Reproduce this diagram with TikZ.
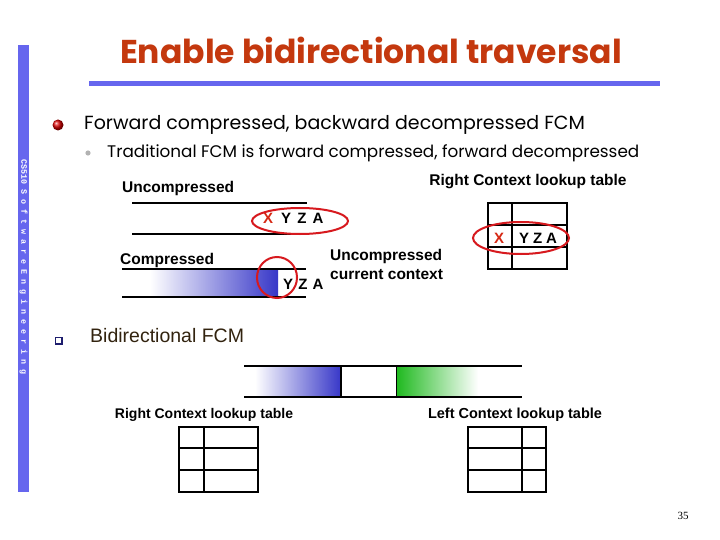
\documentclass[tikz,border=0pt]{standalone}
\usepackage{fontspec}
\setmainfont{Liberation Sans}
\newfontfamily\comic{Poppins}
\newfontfamily\monofont{Liberation Mono}
\newfontfamily\seriffont{Liberation Serif}
\definecolor{barblue}{RGB}{102,102,238}
\definecolor{titlecol}{RGB}{196,56,14}
\definecolor{xred}{RGB}{214,40,20}
\definecolor{ringred}{RGB}{215,25,30}
\definecolor{gblue}{RGB}{55,55,200}
\definecolor{ggreen}{RGB}{30,185,30}
\definecolor{navy}{RGB}{30,30,110}
\definecolor{bidir}{RGB}{50,35,15}
\tikzset{
  rail/.style={line width=2.6pt},
  ring/.style={draw=ringred, line width=2pt},
  grid/.style={line width=2pt},
  lab/.style={font=\bfseries\fontsize{15.5}{18}\selectfont, inner sep=0pt},
  tlab/.style={font=\bfseries\fontsize{14}{16}\selectfont, inner sep=0pt},
  letters/.style={font=\bfseries\fontsize{15}{15}\selectfont, inner sep=0pt}
}
\begin{document}
\begin{tikzpicture}[x=1pt,y=-1pt]
\useasboundingbox (0,0) rectangle (720,540);
\fill[white] (0,0) rectangle (720,540);
% side bar
\fill[barblue] (18,45) rectangle (29,492);
\node[rotate=-90, text=white, inner sep=0pt, font=\monofont\bfseries\fontsize{8.3}{8.3}\selectfont] (side) at (23.5,267) {CS510 S o f t w a r e E n g i n e e r i n g};
% title
\node[font=\comic\bfseries\fontsize{33}{33}\selectfont, text=titlecol, inner sep=0pt] (title) at (371,50) {Enable bidirectional traversal};
\fill[barblue] (89,81) rectangle (660,86);
% bullets
\shade[ball color=red!85!black] (58,125) circle (5.5);
\node[anchor=west, inner sep=0pt, font=\comic\fontsize{19}{19}\selectfont] (b1) at (84,125) {Forward compressed, backward decompressed FCM};
\fill[gray!60] (88,153) circle (2.6);
\node[anchor=west, inner sep=0pt, font=\comic\fontsize{16.8}{16.8}\selectfont] (b2) at (107,153) {Traditional FCM is forward compressed, forward decompressed};
% uncompressed stream
\node[lab, anchor=west] (unc) at (122,188) {Uncompressed};
\draw[rail] (132,203) -- (307,203);
\draw[rail] (132,234) -- (307,234);
\node[letters, text=xred] (ux) at (268,218) {X};
\node[letters] (uy) at (286,218) {Y};
\node[letters] (uz) at (302,218) {Z};
\node[letters] (ua) at (318,218) {A};
\draw[ring] (300,221) ellipse (48 and 13);
% compressed stream
\node[lab, anchor=west] (comp) at (120,260) {Compressed};
\shade[left color=white, right color=gblue] (150,270) rectangle (278,296);
\draw[rail] (122,269) -- (306,269);
\draw[rail] (122,297) -- (306,297);
\node[letters] (cy) at (288,284) {Y};
\node[letters] (cz) at (303,284) {Z};
\node[letters] (ca) at (318,284) {A};
\draw[ring] (277,277.5) ellipse (20 and 20.5);
\node[lab, anchor=west, align=left, font=\bfseries\fontsize{15.5}{19}\selectfont] (ucc) at (330,264) {Uncompressed\\current context};
% right context table (top)
\node[tlab, font=\bfseries\fontsize{15.5}{16}\selectfont] (rct1) at (528,182) {Right Context lookup table};
\draw[grid] (488,203) rectangle (567,269);
\draw[grid] (512,203) -- (512,269);
\draw[grid] (488,225) -- (567,225);
\draw[grid] (488,247) -- (567,247);
\node[letters, text=xred] (tx) at (499,238) {X};
\node[letters] (tyza) at (538,238) {Y\hspace{4pt}Z\hspace{4pt}A};
\draw[ring] (521,238) ellipse (48 and 16);
% bidirectional
\draw[navy, line width=1.2pt] (55.5,337.5) rectangle (62,344);
\node[anchor=west, inner sep=0pt, text=bidir, font=\fontsize{19.5}{19.5}\selectfont] (bfcm) at (90,336) {Bidirectional FCM};
\shade[left color=white, right color=gblue] (255,367) rectangle (341,396);
\shade[left color=ggreen, right color=white] (396,367) rectangle (478,396);
\draw[line width=1.2pt] (341,366) -- (341,397);
\draw[line width=0.8pt] (396,366) -- (396,397);
\draw[rail] (244,366) -- (522,366);
\draw[rail] (244,397) -- (522,397);
% bottom tables
\node[tlab] (rct2) at (204,415) {Right Context lookup table};
\draw[grid] (179,427) rectangle (258,492);
\draw[grid] (204,427) -- (204,492);
\draw[grid] (179,448) -- (258,448);
\draw[grid] (179,470) -- (258,470);
\node[tlab, font=\bfseries\fontsize{14.5}{16}\selectfont] (lct) at (515,415) {Left Context lookup table};
\draw[grid] (468,427) rectangle (546,492);
\draw[grid] (522,427) -- (522,492);
\draw[grid] (468,448) -- (546,448);
\draw[grid] (468,470) -- (546,470);
% page number
\node[font=\seriffont\fontsize{11}{11}\selectfont] (pg) at (683,516) {35};
\end{tikzpicture}
\end{document}
